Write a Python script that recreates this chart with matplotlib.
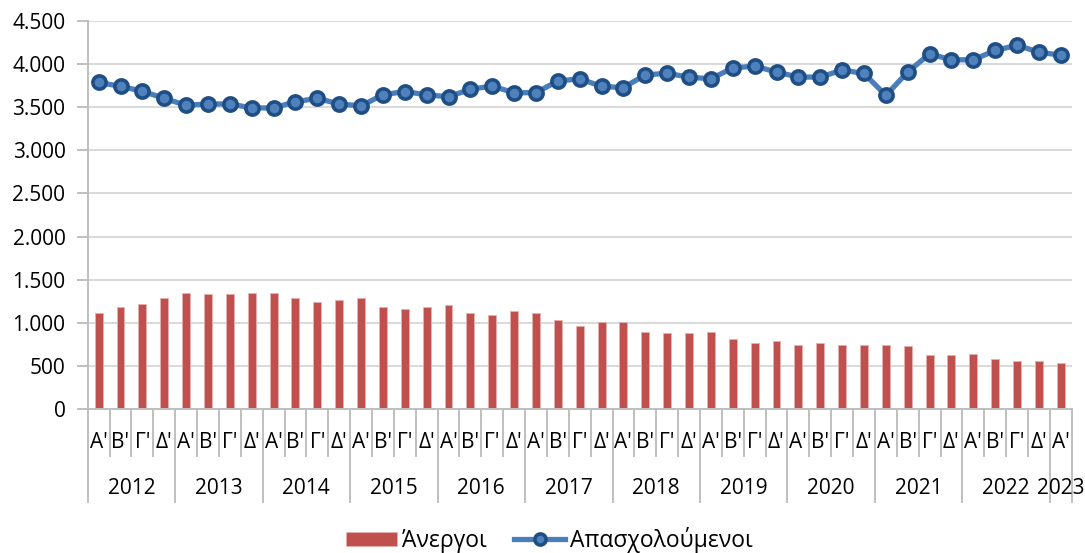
import matplotlib
matplotlib.use("Agg")
import matplotlib.pyplot as plt
import matplotlib.transforms as mtransforms
from matplotlib.ticker import FuncFormatter, MultipleLocator
import numpy as np

plt.rcParams['font.family'] = ['Open Sans', 'DejaVu Sans']

years = ['2012', '2013', '2014', '2015', '2016', '2017', '2018', '2019', '2020', '2021', '2022', '2023']
quarters = ["Α'", "Β'", "Γ'", "Δ'"]
n_quarters = 45

unemployed = [1115, 1178, 1221, 1285, 1348, 1332, 1332, 1348, 1348, 1285, 1241, 1265,
              1285, 1178, 1154, 1178, 1202, 1115, 1091, 1134, 1115, 1028, 960, 1008,
              1008, 897, 877, 877, 897, 814, 767, 794, 747, 767, 747, 747,
              747, 727, 621, 621, 640, 577, 557, 557, 534]
employed = [3788, 3742, 3686, 3602, 3523, 3538, 3538, 3492, 3492, 3564, 3602, 3538,
            3515, 3644, 3682, 3644, 3621, 3708, 3746, 3667, 3670, 3803, 3830, 3742,
            3727, 3875, 3894, 3848, 3830, 3955, 3977, 3908, 3850, 3850, 3931, 3892,
            3638, 3908, 4119, 4050, 4050, 4158, 4219, 4138, 4104]

W, H = 1085, 553
fig = plt.figure(figsize=(W / 100, H / 100), dpi=100)
ax_l, ax_r, ax_t, ax_b = 87.7, 1071.7, 21, 409
ax = fig.add_axes([ax_l / W, 1 - ax_b / H, (ax_r - ax_l) / W, (ax_b - ax_t) / H])

x = np.arange(n_quarters)
bar_color = '#C0504D'
bars = ax.bar(x, unemployed, width=0.36, color=bar_color, edgecolor='#E6B0AE',
              linewidth=0.6, label='Άνεργοι', zorder=2)
line, = ax.plot(x, employed, color='#4A7EBB', lw=3.8, marker='o', markersize=9.5,
                markerfacecolor='#4F81BD', markeredgecolor='#1F4E85', markeredgewidth=2.6,
                label='Απασχολούμενοι', zorder=3)

ax.set_xlim(-0.5, n_quarters - 0.5)
ax.set_ylim(0, 4500)
ax.yaxis.set_major_locator(MultipleLocator(500))
ax.yaxis.set_major_formatter(FuncFormatter(lambda v, p: f"{int(v):,}".replace(",", ".")))
ax.grid(axis='y', color='#D9D9D9', lw=1.4, zorder=0)
ax.set_axisbelow(True)
for s in ['top', 'right']:
    ax.spines[s].set_visible(False)
for s in ['left', 'bottom']:
    ax.spines[s].set_color('#BFBFBF')
    ax.spines[s].set_linewidth(1.4)
ax.tick_params(axis='y', length=8, width=1.4, color='#BFBFBF', labelsize=15, pad=8,
               labelcolor='#000000')
ax.set_xticks([])

axh = ax_b - ax_t
trans = mtransforms.blended_transform_factory(ax.transData, ax.transAxes)
q_bottom = -(456 - ax_b) / axh
y_bottom = -(502 - ax_b) / axh
q_label_y = -(442 - ax_b) / axh
y_label_y = -(489 - ax_b) / axh

for i in range(n_quarters + 1):
    xb = i - 0.5
    is_year = (i % 4 == 0) or i == n_quarters
    ax.plot([xb, xb], [0, y_bottom if is_year else q_bottom], transform=trans,
            color='#BFBFBF', lw=1.4, clip_on=False)

for i in range(n_quarters):
    ax.text(i, q_label_y, quarters[i % 4], transform=trans, ha='center', va='center',
            fontsize=15)

for k, yr in enumerate(years):
    start = k * 4
    end = min(start + 4, n_quarters)
    ax.text((start + end - 1) / 2, y_label_y, yr, transform=trans, ha='center',
            va='center', fontsize=15)

leg = fig.legend(handles=[bars, line], loc='center', bbox_to_anchor=(0.5065, 0.0235),
                 ncol=2, frameon=False, fontsize=16.5, handlelength=2.2, handleheight=0.62,
                 columnspacing=1.2, handletextpad=0.23, borderpad=0.2)
leg.legend_handles[1].set_markersize(8)

fig.savefig('out.png', dpi=100)
